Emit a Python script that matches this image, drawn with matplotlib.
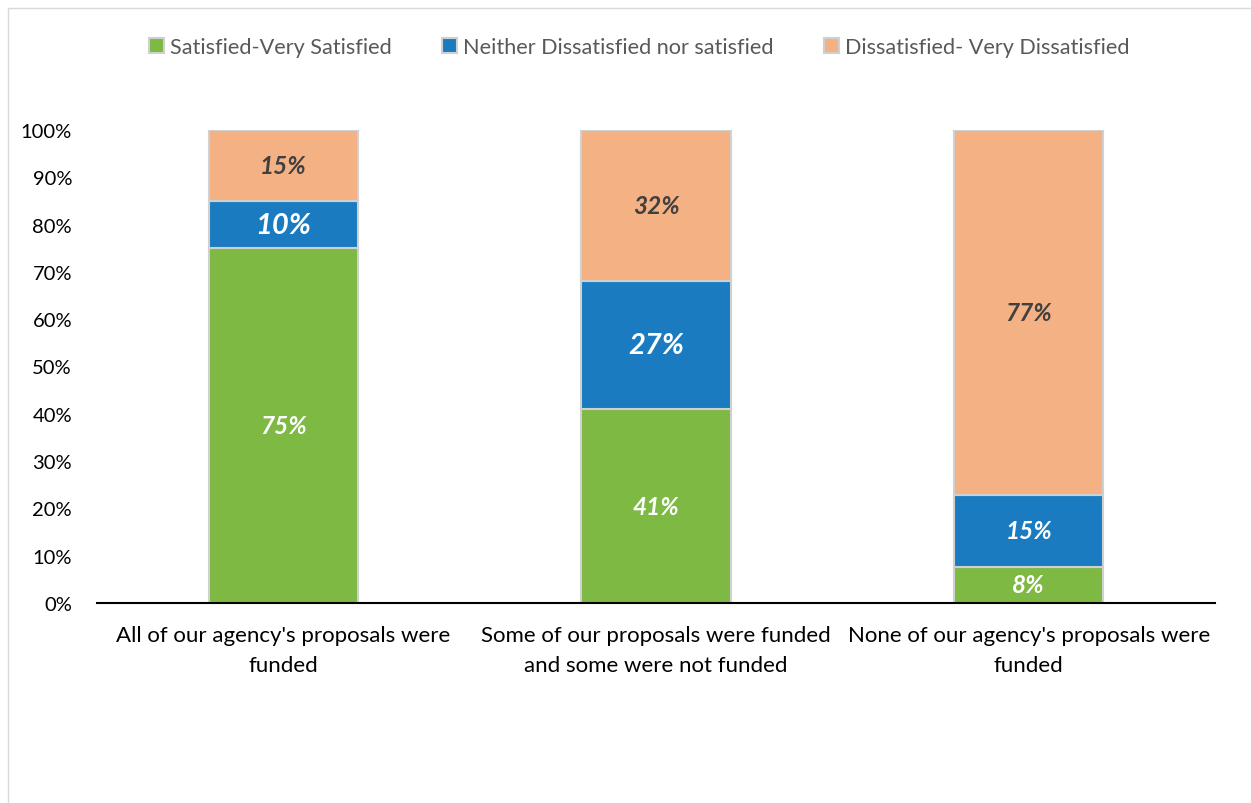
import matplotlib
matplotlib.use("Agg")
import matplotlib.pyplot as plt
import numpy as np

# survey data (percent)
categories = ["All of our agency's proposals were\nfunded",
              "Some of our proposals were funded\nand some were not funded",
              "None of our agency's proposals were\nfunded"]
satisfied = [75.0, 41.0, 7.7]
neither = [10.0, 27.0, 15.2]
dissatisfied = [15.0, 32.0, 77.1]
series_names = ["Satisfied-Very Satisfied",
                "Neither Dissatisfied nor satisfied",
                "Dissatisfied- Very Dissatisfied"]

plt.rcParams['font.family'] = ['Lato', 'DejaVu Sans']

green = '#7DB943'
blue = '#1A7BC0'
orange = '#F4B183'
edge = '#D0D0D0'

fig = plt.figure(figsize=(12.51, 8.04), dpi=100)
ax = fig.add_axes([97/1251, 1-604/804, (1215-97)/1251, (604-131)/804])

x = np.arange(len(categories))
w = 0.40
ax.bar(x, satisfied, w, color=green, edgecolor=edge, linewidth=1.5, label=series_names[0])
ax.bar(x, neither, w, bottom=satisfied, color=blue, edgecolor=edge, linewidth=1.5, label=series_names[1])
bottom3 = [a + b for a, b in zip(satisfied, neither)]
ax.bar(x, dissatisfied, w, bottom=bottom3, color=orange, edgecolor=edge, linewidth=1.5, label=series_names[2])

# value labels
for i in range(len(x)):
    ax.text(x[i], satisfied[i]/2, f"{round(satisfied[i])}%", ha='center', va='center',
            color='white', fontsize=17.5, fontweight='bold', fontstyle='italic')
    fs = 21 if i < 2 else 17.5
    ax.text(x[i], satisfied[i] + neither[i]/2, f"{round(neither[i])}%", ha='center', va='center',
            color='white', fontsize=fs, fontweight='bold', fontstyle='italic')
    ax.text(x[i], bottom3[i] + dissatisfied[i]/2, f"{round(dissatisfied[i])}%", ha='center', va='center',
            color='#404040', fontsize=17.5, fontweight='bold', fontstyle='italic')

ax.set_xlim(-0.5, 2.5)
ax.set_ylim(0, 100)
ax.set_yticks(np.arange(0, 101, 10))
ax.set_yticklabels([f"{v}%" for v in range(0, 101, 10)], fontsize=14.5)
ax.set_xticks(x)
ax.set_xticklabels(categories, fontsize=16, linespacing=1.6)
ax.tick_params(axis='x', length=0, pad=16)
ax.tick_params(axis='y', length=0, pad=18)
for s in ['top', 'right', 'left']:
    ax.spines[s].set_visible(False)
ax.spines['bottom'].set_linewidth(1.5)
ax.spines['bottom'].set_color('black')

leg = fig.legend(loc='center', bbox_to_anchor=(0.511, 1-48/804), ncol=3, frameon=False,
                 fontsize=15.6, handlelength=0.7, handleheight=0.7, handletextpad=0.3,
                 columnspacing=2.3)
for t in leg.get_texts():
    t.set_color('#595959')

# outer chart border
fig.patches.append(plt.Rectangle((8/1251, -0.01), 1.02, 1-9/804+0.01, transform=fig.transFigure,
                                 fill=False, edgecolor='#D9D9D9', linewidth=1))

fig.savefig("out.png", dpi=100)
